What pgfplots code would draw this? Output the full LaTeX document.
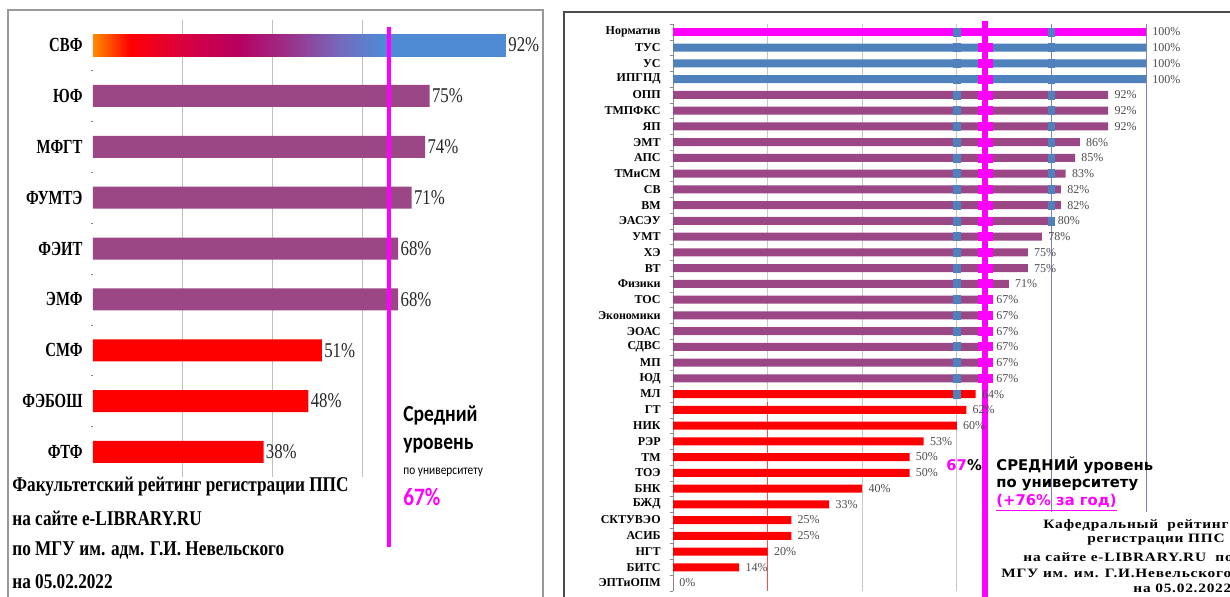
\documentclass[border=0pt]{standalone}
\usepackage{fontspec}
\setmainfont{Liberation Serif}
\newfontfamily\labA[FakeStretch=0.74]{Liberation Serif}
\newfontfamily\valA[FakeStretch=0.8]{Liberation Serif}
\newfontfamily\labB{Liberation Serif}
\newfontfamily\titA[FakeStretch=0.82]{Liberation Serif}
\newfontfamily\titB[FakeStretch=1.2,LetterSpace=6]{Liberation Serif}
\newfontfamily\sansA[FakeStretch=0.85]{Carlito}
\newfontfamily\sansB{DejaVu Sans}
\usepackage{pgfplots}
\pgfplotsset{compat=1.18}

\definecolor{vio}{HTML}{9C4785}
\definecolor{xblue}{HTML}{4F81BD}
\definecolor{mag}{HTML}{FF00FF}
\definecolor{gridb}{HTML}{8080B0}

% gradient of the first bar (path box maps to 25bp..75bp)
\pgfdeclarehorizontalshading{svf}{100bp}{rgb(0bp)=(1,0.55,0); rgb(25bp)=(1,0.55,0);
  rgb(29.5bp)=(1,0,0); rgb(36bp)=(0.85,0,0.25); rgb(42.5bp)=(0.72,0,0.38);
  rgb(49bp)=(0.6,0.2,0.55); rgb(55bp)=(0.45,0.42,0.75); rgb(60bp)=(0.31,0.54,0.83);
  rgb(100bp)=(0.31,0.54,0.83)}

\pgfplotsset{
  lbar/.style={xbar, bar width=11pt, bar shift=0pt, draw=none,
    nodes near coords={\pgfmathprintnumber{\pgfplotspointmeta}\%}, point meta=x,
    every node near coord/.append style={anchor=west, inner sep=1pt, text=black!85,
      font=\valA\fontsize{10.5}{12}\selectfont}},
  rbar/.style={xbar, bar width=4pt, bar shift=0pt, draw=none,
    nodes near coords={\pgfmathprintnumber{\pgfplotspointmeta}\%}, point meta=x,
    every node near coord/.append style={anchor=west, inner sep=3pt, text=black!70,
      font=\labB\fontsize{6}{7}\selectfont}},
}

\begin{document}
\begin{tikzpicture}
\useasboundingbox (0,0) rectangle (615pt,298pt);
\clip (0,0) rectangle (615pt,298pt);

% ---------- faculty rating ----------
\begin{axis}[
  at={(46.45pt,59.3pt)}, anchor=south west,
  scale only axis, width=224.5pt, height=228.9pt,
  xmin=0, xmax=100, ymin=-0.5, ymax=8.5, y dir=reverse,
  /pgf/number format/assume math mode=true,
  axis x line*=bottom, axis y line*=left,
  x axis line style={draw=none}, y axis line style={draw=none},
  xtick={20,40,60}, xticklabels={}, xmajorgrids,
  major grid style={draw=black!25, line width=0.5pt},
  major tick length=0pt, minor tick length=1.2pt, tick align=outside,
  major x tick style={draw=none}, major y tick style={draw=none},
  ytick={0,...,8},
  yticklabels={СВФ,ЮФ,МФГТ,ФУМТЭ,ФЭИТ,ЭМФ,СМФ,ФЭБОШ,ФТФ},
  minor ytick={0.5,1.5,2.5,3.5,4.5,5.5,6.5,7.5},
  minor y tick style={draw=black!50},
  yticklabel style={font=\labA\bfseries\fontsize{10}{12}\selectfont, inner sep=0pt, xshift=-5pt},
  clip=false,
]
\addplot[lbar, shading=svf] coordinates {(92,0)};
\addplot[lbar, fill=vio] coordinates {(75,1) (74,2) (71,3) (68,4) (68,5)};
\addplot[lbar, fill=red] coordinates {(51,6) (48,7) (38,8)};
\draw[mag, line width=2.2pt] (axis cs:66,-0.354) -- (axis cs:66,9.867);
\end{axis}

% ---------- department rating ----------
\begin{axis}[
  at={(336.5pt,2.55pt)}, anchor=south west,
  scale only axis, width=236.5pt, height=283.4pt,
  xmin=0, xmax=100, ymin=-0.5, ymax=35.5, y dir=reverse,
  /pgf/number format/assume math mode=true,
  axis x line*=bottom, axis y line*=left,
  x axis line style={draw=none}, y axis line style={draw=black!45, -},
  xtick={40,60}, xticklabels={}, xmajorgrids,
  major grid style={draw=black!22, line width=0.5pt},
  major tick length=0pt, minor tick length=1.5pt, tick align=outside,
  major x tick style={draw=none}, major y tick style={draw=none},
  ytick={0,...,35},
  yticklabels={Норматив,ТУС,УС,ИПГПД,ОПП,ТМПФКС,ЯП,ЭМТ,АПС,ТМиСМ,СВ,ВМ,ЭАСЭУ,УМТ,ХЭ,ВТ,Физики,ТОС,Экономики,ЭОАС,СДВС,МП,ЮД,МЛ,ГТ,НИК,РЭР,ТМ,ТОЭ,БНК,БЖД,СКТУВЭО,АСИБ,НГТ,БИТС,ЭПТиОПМ},
  minor ytick={-0.5,0.5,...,35.5},
  minor y tick style={draw=black!45},
  yticklabel style={font=\labB\bfseries\fontsize{6}{7}\selectfont, inner sep=0pt, xshift=-6pt},
  clip=false,
]
\draw[black!22, line width=0.5pt] (axis cs:20,-0.5) -- (axis cs:20,23.5);
\draw[red!70, line width=0.5pt] (axis cs:20,23.5) -- (axis cs:20,35.5);
\draw[gridb, line width=0.5pt] (axis cs:80,-0.5) -- (axis cs:80,30.5);
\draw[gridb, line width=0.5pt] (axis cs:100,-0.5) -- (axis cs:100,30.5);
\addplot[rbar, fill=mag] coordinates {(100,0)};
\addplot[rbar, fill=xblue] coordinates {(100,1) (100,2) (100,3)};
\addplot[rbar, fill=vio] coordinates {(92,4) (92,5) (92,6) (86,7) (85,8) (83,9) (82,10) (82,11)
  (80,12) (78,13) (75,14) (75,15) (71,16) (67,17) (67,18) (67,19) (67,20) (67,21) (67,22)};
\addplot[rbar, fill=red] coordinates {(64,23) (62,24) (60,25) (53,26) (50,27) (50,28) (40,29)
  (33,30) (25,31) (25,32) (20,33) (14,34) (0,35)};
% gridline crossings seen on the bars
\addplot[only marks, mark=square*, mark size=2pt, color=xblue,
  mark options={draw=none, xscale=0.8}] coordinates {(60,0) (60,1) (60,2) (60,3) (60,4) (60,5)
  (60,6) (60,7) (60,8) (60,9) (60,10) (60,11) (60,12) (60,13) (60,14) (60,15) (60,16) (60,17)
  (60,18) (60,19) (60,20) (60,21) (60,22) (60,23)};
\addplot[only marks, mark=square*, mark size=2pt, color=xblue,
  mark options={draw=none, xscale=0.8}] coordinates {(80,0) (80,1) (80,2) (80,3) (80,4) (80,5)
  (80,6) (80,7) (80,8) (80,9) (80,10) (80,11) (80,12)};
\draw[mag, line width=3pt] (axis cs:66,-0.7) -- (axis cs:66,36.5);
\addplot[only marks, mark=square*, mark size=2pt, color=mag,
  mark options={draw=none, xscale=1.7}] coordinates {(66,1) (66,2) (66,3) (66,4) (66,5) (66,6)
  (66,7) (66,8) (66,9) (66,10) (66,11) (66,12) (66,13) (66,14) (66,15) (66,16) (66,17) (66,18)
  (66,19) (66,20) (66,21) (66,22)};
\end{axis}

\begin{scope}[x=0.5pt,y=0.5pt]
% frames
\draw[black!40, line width=0.6pt] (8,-10) -- (8,586) -- (543,586) -- (543,-10);
\draw[black!70, line width=0.6pt] (564,-10) -- (564,584) -- (1240,584);

% left annotations
\node[anchor=west, inner sep=0pt, font=\sansA\bfseries\fontsize{11.5}{12}\selectfont] at (403,181) {Средний};
\node[anchor=west, inner sep=0pt, font=\sansA\bfseries\fontsize{11.5}{12}\selectfont] at (403,150) {уровень};
\node[anchor=west, inner sep=0pt, font=\sansA\fontsize{6.7}{7}\selectfont] at (403,124) {по университету};
\node[anchor=west, inner sep=0pt, text=mag, font=\sansA\bfseries\fontsize{12.5}{14}\selectfont] at (403,99) {67\%};

\begin{scope}[every node/.style={anchor=west, inner sep=0pt, font=\titA\bfseries\fontsize{10.5}{12}\selectfont}]
\node at (12,109) {Факультетский рейтинг регистрации ППС};
\node at (12,78) {на сайте e-LIBRARY.RU};
\node at (12,46) {по МГУ им. адм. Г.И. Невельского};
\node at (12,14) {на 05.02.2022};
\end{scope}

% right annotations
\begin{scope}[every node/.style={anchor=west, inner sep=0pt, font=\sansB\bfseries\fontsize{7.4}{8}\selectfont}]
\node at (946,131) {\textcolor{mag}{67}\%};
\node at (996,131) {СРЕДНИЙ уровень};
\node at (996,111) {по университету};
\node[text=mag] at (996,93) {\underline{(+76\% за год)}};
\end{scope}
\begin{scope}[every node/.style={anchor=west, inner sep=0pt, font=\titB\bfseries\fontsize{6.4}{7}\selectfont}]
\node at (1043,71) {Кафедральный~ рейтинг};
\node at (1087,56) {регистрации ППС};
\node at (1023,39) {на сайте e-LIBRARY.RU~ по};
\node at (1001,23) {МГУ им. им. Г.И.Невельского};
\node at (1133,8) {на 05.02.2022};
\end{scope}
\end{scope}
\end{tikzpicture}
\end{document}
